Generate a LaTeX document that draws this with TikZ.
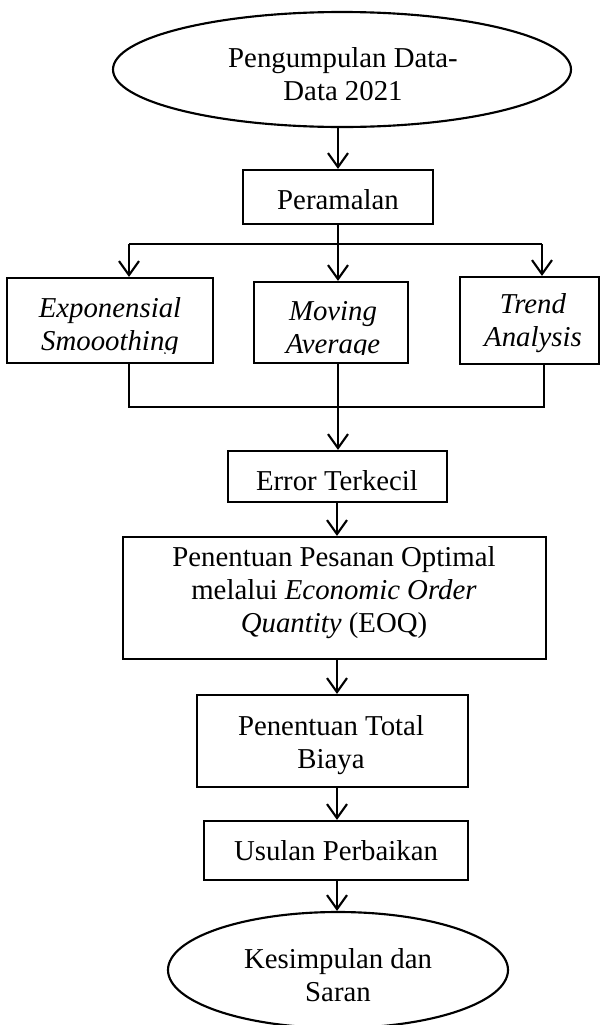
\documentclass[tikz,border=0pt]{standalone}
\usepackage{fontspec}
\setmainfont{Liberation Serif}
\usetikzlibrary{shapes.geometric,arrows.meta}
\tikzset{
  ln/.style={line width=1.6pt},
  box/.style={draw, ln, rectangle, inner sep=0pt},
  oval/.style={draw, ln, ellipse, inner sep=0pt},
  tx/.style={inner sep=0pt, align=center, font=\fontsize{21.6pt}{24.75pt}\selectfont},
  arr/.style={ln, -{Straight Barb[length=10.5pt,width=15pt]}},
  con/.style={ln}
}
\begin{document}
\begin{tikzpicture}[x=0.75pt,y=-0.75pt]
\useasboundingbox (0,0) rectangle (601,1025);
% shapes
\node[oval, minimum width=343.5pt, minimum height=86.25pt] (start) at (342,69.5) {};
\node[tx] (tstart) at (343,76.9) {\strut Pengumpulan Data-\\Data 2021\strut};

\node[box, minimum width=142.5pt, minimum height=40.5pt] (peramalan) at (338,197) {};
\node[tx] (tperamalan) at (338,202.4) {\strut Peramalan\strut};

\node[box, minimum width=154.5pt, minimum height=63.75pt] (exp) at (110,320.5) {};
\node[box, minimum width=115.5pt, minimum height=60.75pt] (mov) at (331,322.5) {};
\node[box, minimum width=104.25pt, minimum height=65.25pt] (trend) at (529.5,320.5) {};
\begin{scope}
  \clip (exp.north west) rectangle ([yshift=8.25pt]exp.south east);
  \node[tx] (texp) at (110,326.9) {\strut\textit{Exponensial}\\\textit{Smooothing}\strut};
\end{scope}
\begin{scope}
  \clip (mov.north west) rectangle ([yshift=7.5pt]mov.south east);
  \node[tx] (tmov) at (333,330) {\strut\textit{Moving}\\\textit{Average}\strut};
\end{scope}
\node[tx] (ttrend) at (533,323) {\strut\textit{Trend}\\\textit{Analysis}\strut};

\node[box, minimum width=164.25pt, minimum height=38.25pt] (error) at (337.5,476.5) {};
\node[tx] (terror) at (337,483.4) {\strut Error Terkecil\strut};

\node[box, minimum width=317.25pt, minimum height=91.5pt] (eoq) at (334.5,598) {};
\node[tx] (teoq) at (334,593) {\strut Penentuan Pesanan Optimal\\melalui \textit{Economic Order}\\\textit{Quantity} (EOQ)\strut};

\node[box, minimum width=203.25pt, minimum height=69pt] (total) at (332.5,741) {};
\node[tx] (ttotal) at (331,745) {\strut Penentuan Total\\Biaya\strut};

\node[box, minimum width=198pt, minimum height=44.25pt] (usulan) at (336,850.5) {};
\node[tx] (tusulan) at (336,853.4) {\strut Usulan Perbaikan\strut};

\node[oval, minimum width=255pt, minimum height=87pt] (end) at (338,970) {};
\node[tx] (tend) at (338,978) {\strut Kesimpulan dan\\Saran\strut};

% connector points
\coordinate (split) at (338,244);
\coordinate (b1) at (129,244);
\coordinate (b3) at (542,244);
\coordinate (j1) at (129,407);
\coordinate (j3) at (544,407);
\coordinate (join) at (338,407);
\coordinate (spine) at (337,500);

% connectors
\draw[arr] (peramalan.north |- start.south) -- (peramalan.north);
\draw[con] (peramalan.south) -- (split);
\draw[con] (b1) -- (b3);
\draw[arr] (b1) -- (b1 |- exp.north);
\draw[arr] (split) -- (split |- mov.north);
\draw[arr] (b3) -- (b3 |- trend.north);
\draw[con] (exp.south -| j1) -- (j1) -- (j3) -- (trend.south -| j3);
\draw[con] (mov.south -| join) -- (join);
\draw[arr] (join) -- (join |- error.north);
\draw[arr] (error.south -| spine) -- (eoq.north -| spine);
\draw[arr] (eoq.south -| spine) -- (total.north -| spine);
\draw[arr] (total.south -| spine) -- (usulan.north -| spine);
\draw[arr] (usulan.south -| spine) -- (end.north -| spine);
\end{tikzpicture}
\end{document}
